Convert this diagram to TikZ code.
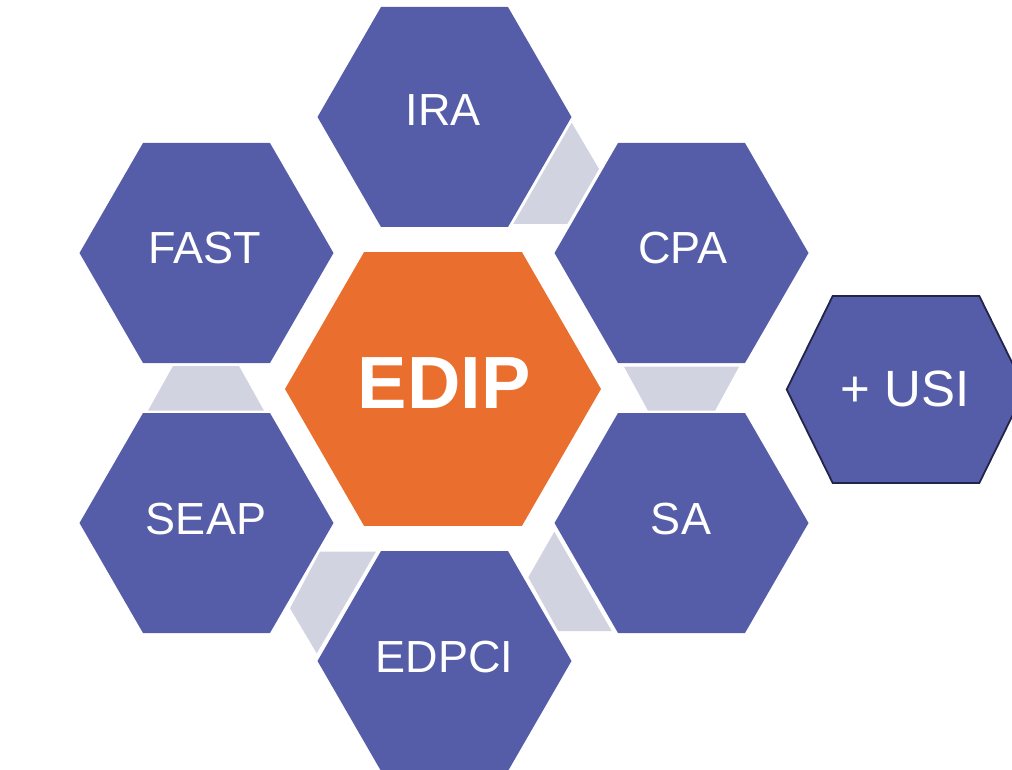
\documentclass[tikz,border=0pt]{standalone}
\usepackage{fontspec}
\setmainfont{Liberation Sans}
\definecolor{hexblue}{HTML}{565DA8}
\definecolor{hexorange}{HTML}{EA6E2D}
\definecolor{linkgray}{HTML}{D1D3E0}
\definecolor{navyline}{HTML}{22244A}
\tikzset{
  pics/hexa/.style n args={3}{code={
    \path[pic actions] (-#1,0) -- (-#2,-#3) -- (#2,-#3) -- (#1,0) -- (#2,#3) -- (-#2,#3) -- cycle;}},
  lbl/.style={text=white, font=\fontsize{45}{54}\selectfont, inner sep=0pt, anchor=center},
  link/.style={fill=linkgray, draw=none},
}
\begin{document}
\begin{tikzpicture}[x=1pt,y=-1pt]
\useasboundingbox (0,0) rectangle (1012,770);
% connectors (gray trapezoids)
\fill[link] (513.3,224) -- (567.3,224) -- (599,169) -- (571.7,122.7) -- cycle;
\fill[link] (173,366) -- (239,366) -- (264,410.7) -- (148,410.7) -- cycle;
\fill[link] (624,366.7) -- (739,366.7) -- (715,410.7) -- (648,410.7) -- cycle;
\fill[link] (320,551.7) -- (376,551.7) -- (316.7,653.3) -- (290,608.3) -- cycle;
\fill[link] (554.3,531.7) -- (528.3,577.3) -- (558.3,631) -- (611.7,631) -- cycle;
% hexagons
\pic[fill=hexblue] at (444.5,117) {hexa={127}{63.5}{110}};
\pic[fill=hexblue] at (206.5,253) {hexa={127}{63.5}{110}};
\pic[fill=hexblue] at (681.5,253) {hexa={127}{63.5}{110}};
\pic[fill=hexblue] at (206.5,523) {hexa={127}{63.5}{110}};
\pic[fill=hexblue] at (681.5,523) {hexa={127}{63.5}{110}};
\pic[fill=hexblue] at (444.5,661) {hexa={127}{63.5}{110}};
\pic[fill=hexorange] at (443,389) {hexa={158}{79}{136.8}};
\pic[fill=hexblue, draw=navyline, line width=1.8pt] at (906,389.5) {hexa={119.3}{73.3}{93.5}};
% labels
\node[lbl] (ira) at (443.5,110) {IRA};
\node[lbl] (fast) at (205,248) {FAST};
\node[lbl] (cpa) at (683,248.5) {CPA};
\node[lbl] (seap) at (206,519) {SEAP};
\node[lbl] (sa) at (681,519) {SA};
\node[lbl] (edpci) at (444.5,657) {EDPCI};
\node[lbl, font=\fontsize{74}{88}\selectfont\bfseries] (edip) at (444,383.5) {EDIP};
\node[lbl, font=\fontsize{51}{60}\selectfont] (usi) at (905,389) {+ USI};
\end{tikzpicture}
\end{document}
